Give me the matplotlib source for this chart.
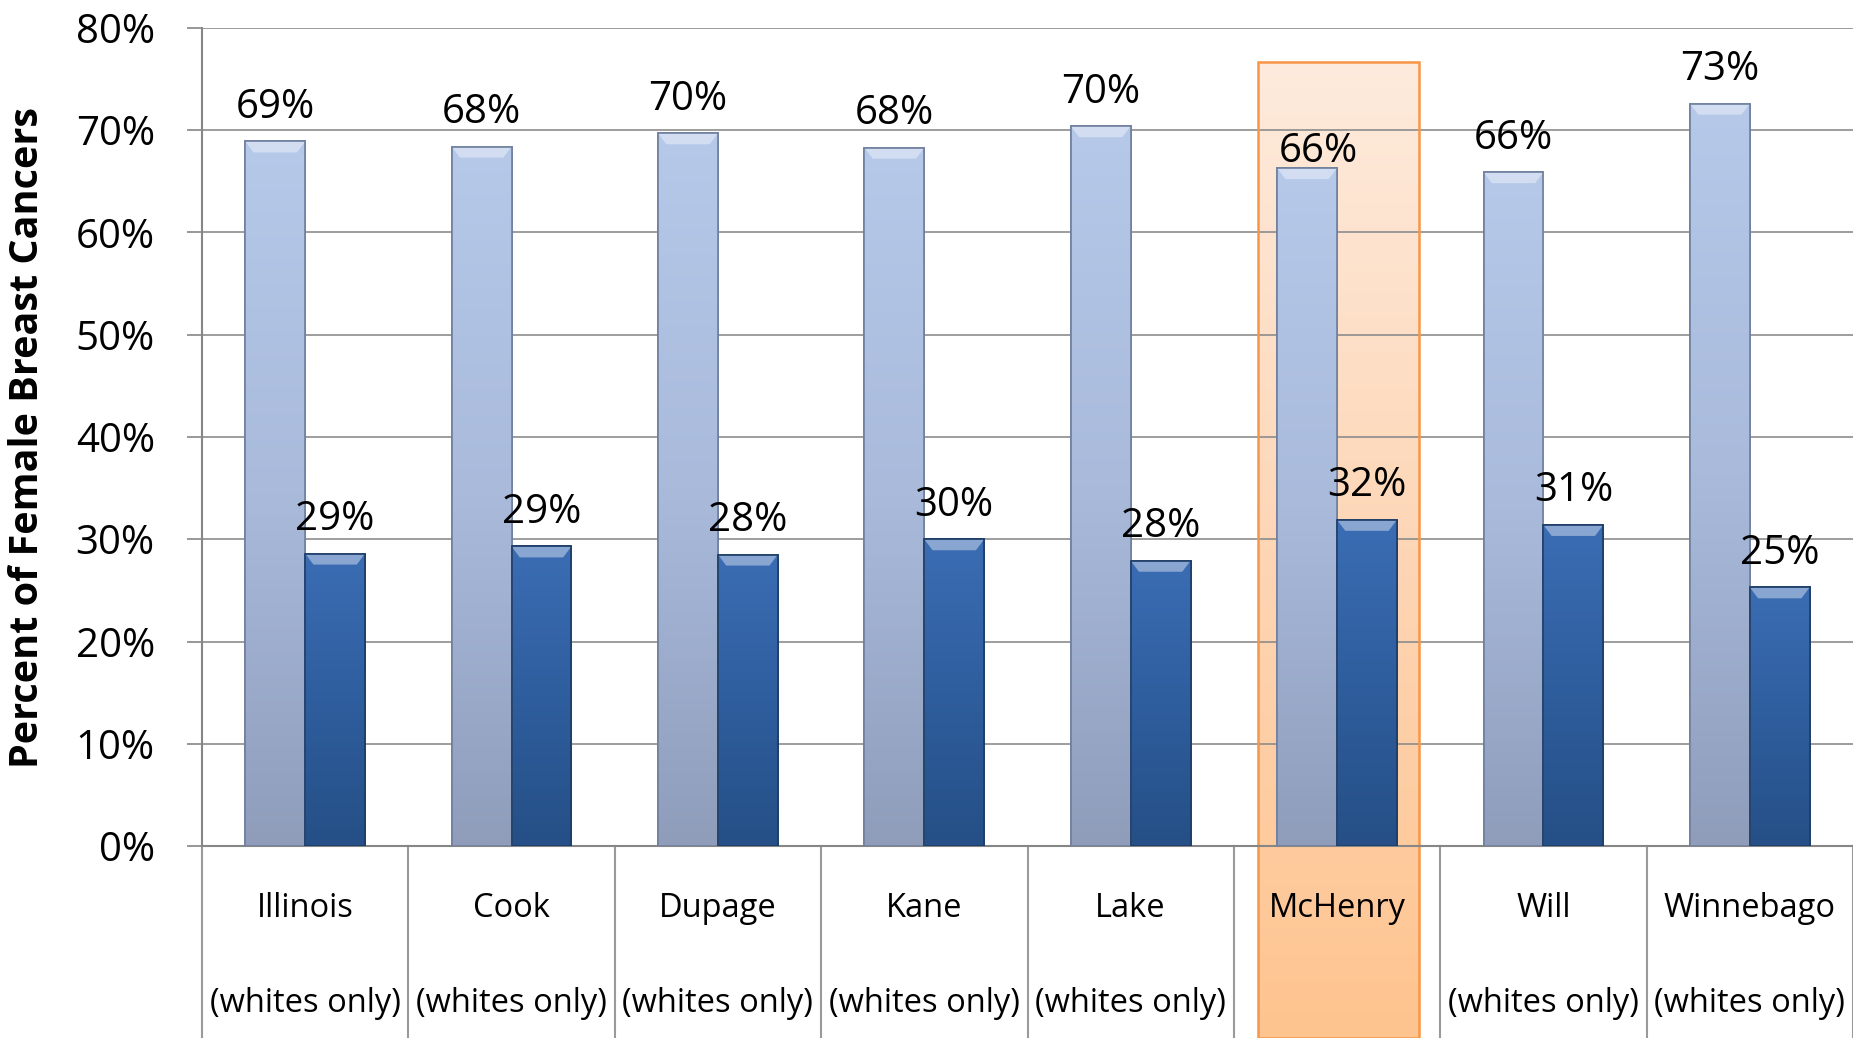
"""Female breast cancer stage share by county (Illinois)"""

import numpy as np
import matplotlib.pyplot as plt
from matplotlib.patches import Rectangle, Polygon
from matplotlib.colors import LinearSegmentedColormap
import matplotlib.transforms as mtransforms

plt.rcParams['font.family'] = ['Open Sans', 'DejaVu Sans']

counties = ['Illinois', 'Cook', 'Dupage', 'Kane', 'Lake', 'McHenry', 'Will', 'Winnebago']
subtitles = ['(whites only)'] * 5 + [''] + ['(whites only)'] * 2
light_vals = [68.9, 68.4, 69.7, 68.3, 70.4, 66.3, 65.9, 72.6]
dark_vals = [28.6, 29.3, 28.5, 30.0, 27.9, 31.9, 31.4, 25.3]
light_labels = ['69%', '68%', '70%', '68%', '70%', '66%', '66%', '73%']
dark_labels = ['29%', '29%', '28%', '30%', '28%', '32%', '31%', '25%']
highlight = 'McHenry'
yticks = [0, 10, 20, 30, 40, 50, 60, 70, 80]

W, H = 1853, 1038
fig = plt.figure(figsize=(W / 100, H / 100), dpi=100)
ax = fig.add_axes([202 / W, (H - 846) / H, 1 - 202 / W, (846 - 28) / H])

x = np.arange(len(counties))
bw = 0.29
ymin, ymax = 0, 80
px = (ymax - ymin) / 818.0   # data units per pixel (vertical)

light_cmap = LinearSegmentedColormap.from_list('lb', ['#8F9DBB', '#A9BADB', '#B6C9E9'])
dark_cmap = LinearSegmentedColormap.from_list('db', ['#254F86', '#2F5E9E', '#3B6DB4'])
grad = np.linspace(0, 1, 256).reshape(-1, 1)


def draw_bars(xpos, vals, cmap, edge):
    bars = ax.bar(xpos, vals, bw, color=cmap(0.6), edgecolor=edge, linewidth=1.2, zorder=3)
    for b in bars:
        x0, w, h = b.get_x(), b.get_width(), b.get_height()
        im = ax.imshow(grad, cmap=cmap, origin='lower', aspect='auto',
                       extent=[x0, x0 + w, 0, h], zorder=3)
        im.set_clip_path(b)
        bev = 11 * px
        ins = 0.04
        ax.add_patch(Polygon([[x0, h], [x0 + w, h], [x0 + w - ins, h - bev], [x0 + ins, h - bev]],
                             closed=True, facecolor='white', alpha=0.4, edgecolor='none', zorder=4))
        ax.add_patch(Rectangle((x0, 0), w, h, fill=False, edgecolor=edge, linewidth=1.2, zorder=5))
    return bars


# highlight box behind McHenry
hi = counties.index(highlight)
rx0, rx1 = hi - 0.381, hi + 0.399
rtop = (846 - 62) * px
rbot = -(1038 - 846) * px
peach = LinearSegmentedColormap.from_list('pc', ['#FFC48F', '#FDD6B6', '#FDEBDD'])
im = ax.imshow(grad, cmap=peach, origin='lower', aspect='auto',
               extent=[rx0, rx1, rbot, rtop], zorder=0.5)
im.set_clip_on(False)
ax.add_patch(Rectangle((rx0, rbot), rx1 - rx0, rtop - rbot, fill=False,
                       edgecolor='#F79646', linewidth=1.8, zorder=0.6, clip_on=False))

draw_bars(x - bw / 2, light_vals, light_cmap, '#6F7F9E')
draw_bars(x + bw / 2, dark_vals, dark_cmap, '#1B3C66')

for i, (xi, v, lab) in enumerate(zip(x - bw / 2, light_vals, light_labels)):
    # the label inside the highlight box sits lower and a bit to the right
    off = (8, 4.5) if i == hi else (0, 17)
    ax.annotate(lab, (xi, v), xytext=off, textcoords='offset points',
                ha='center', va='baseline', fontsize=29, zorder=6)
for xi, v, lab in zip(x + bw / 2, dark_vals, dark_labels):
    ax.annotate(lab, (xi, v), xytext=(0, 17), textcoords='offset points',
                ha='center', va='baseline', fontsize=29, zorder=6)

ax.set_xlim(-0.5, len(counties) - 0.5)
ax.set_ylim(ymin, ymax)
ax.set_yticks(yticks)
ax.set_yticklabels([f'{t}%' for t in yticks], fontsize=29)
ax.tick_params(axis='y', length=11, width=1.2, color='#868686', pad=23)
ax.set_xticks([])
ax.yaxis.grid(True, color='#8C8C8C', linewidth=1.2, zorder=1)
ax.set_axisbelow(True)
for s in ['top', 'right']:
    ax.spines[s].set_visible(False)
for s in ['left', 'bottom']:
    ax.spines[s].set_color('#868686')
    ax.spines[s].set_linewidth(1.5)
ax.patch.set_alpha(0)

# category axis: dividers and two-line labels below the plot
trans = mtransforms.blended_transform_factory(ax.transData, ax.transAxes)
for k in range(len(counties) + 1):
    ax.plot([k - 0.5, k - 0.5], [0, -0.25], transform=trans, color='#9A9A9A',
            linewidth=1.5, clip_on=False, zorder=2)
for xi, name, sub in zip(x, counties, subtitles):
    ax.text(xi, -0.076, name, transform=trans, ha='center', va='center', fontsize=23.5)
    if sub:
        ax.text(xi, -0.193, sub, transform=trans, ha='center', va='center', fontsize=23.5)

fig.text(28 / W, 0.5 + (H / 2 - 437) / H, 'Percent of Female Breast Cancers', rotation=90,
         ha='center', va='center', fontsize=28.5, fontweight='bold')

fig.savefig('out.png', dpi=100)
